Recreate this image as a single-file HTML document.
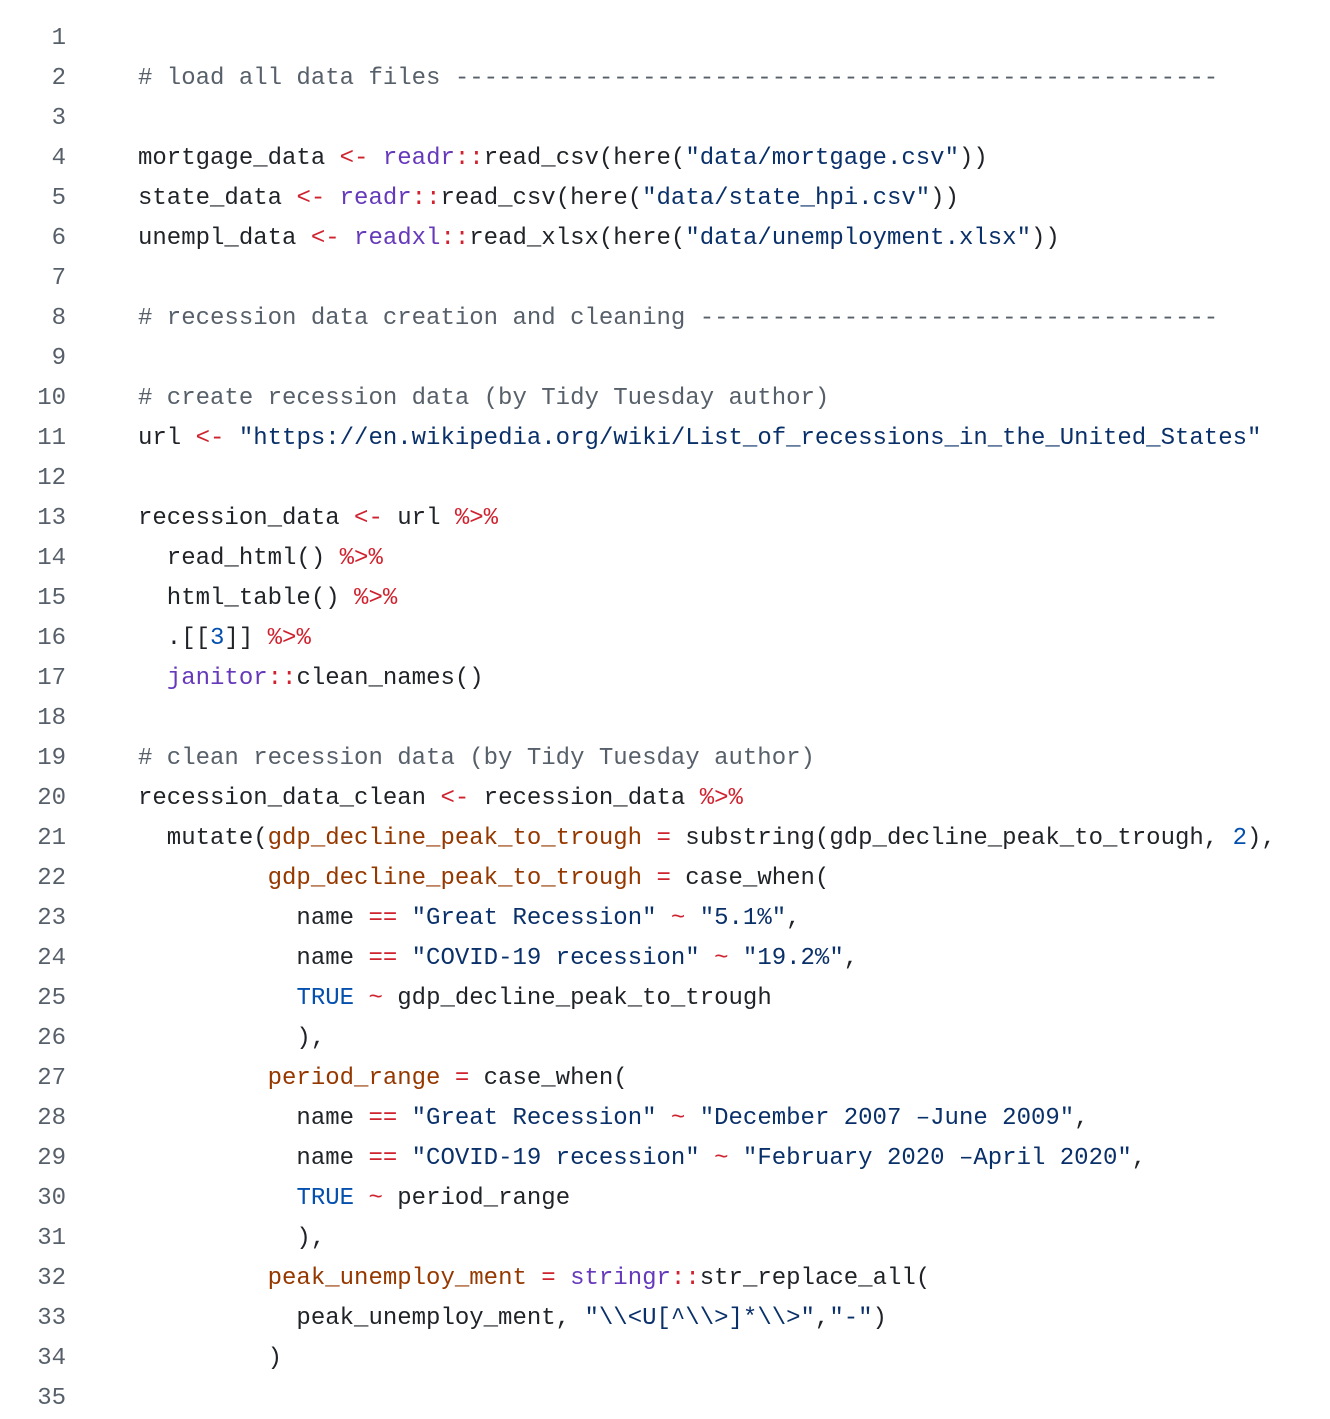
<!DOCTYPE html>
<html><head><meta charset="utf-8"><style>
html,body{margin:0;padding:0;background:#fff;width:1330px;height:1410px;overflow:hidden}
.c{position:absolute;top:19px;left:0;font-family:"Liberation Mono",monospace;font-size:24px;line-height:40px;color:#1f2328}
.r{display:flex;height:40px}
.n{width:66px;text-align:right;color:#57606a;flex:none}
.t{padding-left:72px;white-space:pre}
.cm{color:#57606a}.k{color:#cf222e}.p{color:#6639ba}.s{color:#0a3069}.v{color:#953800}.b{color:#0550ae}
</style></head><body><div class="c">
<div class="r"><span class="n">1</span><span class="t"></span></div>
<div class="r"><span class="n">2</span><span class="t cm"># load all data files -----------------------------------------------------</span></div>
<div class="r"><span class="n">3</span><span class="t"></span></div>
<div class="r"><span class="n">4</span><span class="t">mortgage_data <span class="k">&lt;-</span> <span class="p">readr</span><span class="k">::</span>read_csv(here(<span class="s">"data/mortgage.csv"</span>))</span></div>
<div class="r"><span class="n">5</span><span class="t">state_data <span class="k">&lt;-</span> <span class="p">readr</span><span class="k">::</span>read_csv(here(<span class="s">"data/state_hpi.csv"</span>))</span></div>
<div class="r"><span class="n">6</span><span class="t">unempl_data <span class="k">&lt;-</span> <span class="p">readxl</span><span class="k">::</span>read_xlsx(here(<span class="s">"data/unemployment.xlsx"</span>))</span></div>
<div class="r"><span class="n">7</span><span class="t"></span></div>
<div class="r"><span class="n">8</span><span class="t cm"># recession data creation and cleaning ------------------------------------</span></div>
<div class="r"><span class="n">9</span><span class="t"></span></div>
<div class="r"><span class="n">10</span><span class="t cm"># create recession data (by Tidy Tuesday author)</span></div>
<div class="r"><span class="n">11</span><span class="t">url <span class="k">&lt;-</span> <span class="s">"https://en.wikipedia.org/wiki/List_of_recessions_in_the_United_States"</span></span></div>
<div class="r"><span class="n">12</span><span class="t"></span></div>
<div class="r"><span class="n">13</span><span class="t">recession_data <span class="k">&lt;-</span> url <span class="k">%&gt;%</span></span></div>
<div class="r"><span class="n">14</span><span class="t">  read_html() <span class="k">%&gt;%</span></span></div>
<div class="r"><span class="n">15</span><span class="t">  html_table() <span class="k">%&gt;%</span></span></div>
<div class="r"><span class="n">16</span><span class="t">  .[[<span class="b">3</span>]] <span class="k">%&gt;%</span></span></div>
<div class="r"><span class="n">17</span><span class="t">  <span class="p">janitor</span><span class="k">::</span>clean_names()</span></div>
<div class="r"><span class="n">18</span><span class="t"></span></div>
<div class="r"><span class="n">19</span><span class="t cm"># clean recession data (by Tidy Tuesday author)</span></div>
<div class="r"><span class="n">20</span><span class="t">recession_data_clean <span class="k">&lt;-</span> recession_data <span class="k">%&gt;%</span></span></div>
<div class="r"><span class="n">21</span><span class="t">  mutate(<span class="v">gdp_decline_peak_to_trough</span> <span class="k">=</span> substring(gdp_decline_peak_to_trough, <span class="b">2</span>),</span></div>
<div class="r"><span class="n">22</span><span class="t">         <span class="v">gdp_decline_peak_to_trough</span> <span class="k">=</span> case_when(</span></div>
<div class="r"><span class="n">23</span><span class="t">           name <span class="k">==</span> <span class="s">"Great Recession"</span> <span class="k">~</span> <span class="s">"5.1%"</span>,</span></div>
<div class="r"><span class="n">24</span><span class="t">           name <span class="k">==</span> <span class="s">"COVID-19 recession"</span> <span class="k">~</span> <span class="s">"19.2%"</span>,</span></div>
<div class="r"><span class="n">25</span><span class="t">           <span class="b">TRUE</span> <span class="k">~</span> gdp_decline_peak_to_trough</span></div>
<div class="r"><span class="n">26</span><span class="t">           ),</span></div>
<div class="r"><span class="n">27</span><span class="t">         <span class="v">period_range</span> <span class="k">=</span> case_when(</span></div>
<div class="r"><span class="n">28</span><span class="t">           name <span class="k">==</span> <span class="s">"Great Recession"</span> <span class="k">~</span> <span class="s">"December 2007 –June 2009"</span>,</span></div>
<div class="r"><span class="n">29</span><span class="t">           name <span class="k">==</span> <span class="s">"COVID-19 recession"</span> <span class="k">~</span> <span class="s">"February 2020 –April 2020"</span>,</span></div>
<div class="r"><span class="n">30</span><span class="t">           <span class="b">TRUE</span> <span class="k">~</span> period_range</span></div>
<div class="r"><span class="n">31</span><span class="t">           ),</span></div>
<div class="r"><span class="n">32</span><span class="t">         <span class="v">peak_unemploy_ment</span> <span class="k">=</span> <span class="p">stringr</span><span class="k">::</span>str_replace_all(</span></div>
<div class="r"><span class="n">33</span><span class="t">           peak_unemploy_ment, <span class="s">"\\&lt;U[^\\&gt;]*\\&gt;"</span>,<span class="s">"-"</span>)</span></div>
<div class="r"><span class="n">34</span><span class="t">         )</span></div>
<div class="r"><span class="n">35</span><span class="t"></span></div>
</div></body></html>
